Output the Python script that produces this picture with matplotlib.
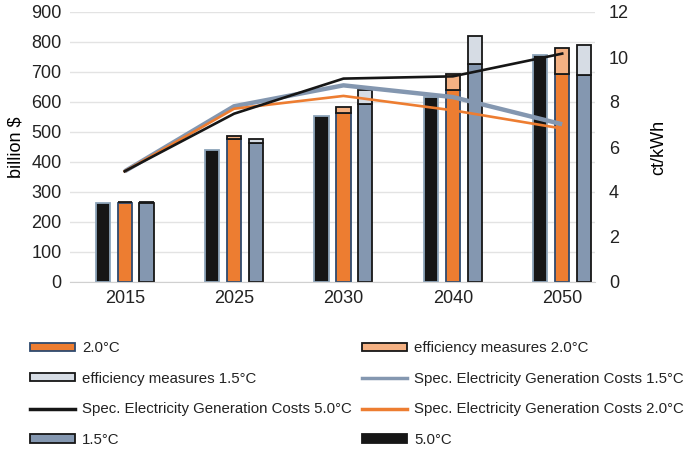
import numpy as np
import matplotlib
matplotlib.use("Agg")
import matplotlib.pyplot as plt
from matplotlib.patches import Patch
from matplotlib.lines import Line2D

plt.rcParams["font.family"] = ["Liberation Sans", "DejaVu Sans"]

years = ["2015", "2025", "2030", "2040", "2050"]

# investment, billion $
inv_50 = [265, 439, 553, 617, 758]
inv_20 = [265, 477, 563, 639, 692]
eff_20 = [0, 9, 20, 53, 88]
inv_15 = [265, 463, 592, 728, 689]
eff_15 = [0, 15, 47, 91, 100]

# specific electricity generation costs, ct/kWh
cost_50 = [4.92, 7.48, 9.04, 9.14, 10.15]
cost_20 = [4.92, 7.70, 8.27, 7.63, 6.82]
cost_15 = [4.92, 7.81, 8.74, 8.22, 7.01]

BLACK = "#161616"
ORANGE = "#ED7D31"
LORANGE = "#F4B183"
BLUE = "#8497B0"
LGREY = "#D6DCE4"

fig = plt.figure(figsize=(6.85, 4.49), dpi=100)
ax = fig.add_axes([70 / 685, 1 - 282 / 449, 525 / 685, 270 / 449])
ax2 = ax.twinx()

x = np.arange(len(years))
w = 0.13
step = 0.2

ax.bar(x - step, inv_50, w, color=BLACK, edgecolor="#8EA5BA", linewidth=1.3, zorder=2)
ax.bar(x, inv_20, w, color=ORANGE, edgecolor="#2E4A6E", linewidth=1.3, zorder=2)
ax.bar(x, eff_20, w, bottom=inv_20, color=LORANGE, edgecolor=BLACK, linewidth=1.3, zorder=2)
ax.bar(x + step, inv_15, w, color=BLUE, edgecolor=BLACK, linewidth=1.3, zorder=2)
ax.bar(x + step, eff_15, w, bottom=inv_15, color=LGREY, edgecolor=BLACK, linewidth=1.3, zorder=2)

ax2.plot(x, cost_15, color=BLUE, lw=3.2, solid_capstyle="butt")
ax2.plot(x, cost_20, color=ORANGE, lw=1.9)
ax2.plot(x, cost_50, color=BLACK, lw=1.9)

ax.set_xlim(-0.5, 4.3)
ax.set_ylim(0, 900)
ax.set_yticks(range(0, 901, 100))
ax2.set_ylim(0, 12)
ax2.set_yticks(range(0, 13, 2))
ax.set_xticks(x)
ax.set_xticklabels(years)

ax.grid(axis="y", color="#E3E3E3", lw=1, zorder=0)
ax.set_axisbelow(True)
for a in (ax, ax2):
    for s in a.spines.values():
        s.set_visible(False)
    a.tick_params(length=0, labelsize=13, colors="#222222")
ax.spines["bottom"].set_visible(True)
ax.spines["bottom"].set_color("#D0D0D0")
ax.tick_params(axis="y", pad=6)
ax.tick_params(axis="x", pad=6)
ax2.tick_params(axis="y", pad=10)

ax.set_ylabel("billion $", fontsize=13, labelpad=5)
ax2.set_ylabel("ct/kWh", fontsize=13, labelpad=15)

# legend, filled column by column
handles = [
    Patch(facecolor=ORANGE, edgecolor="#2E4A6E", lw=1.3, label="2.0°C"),
    Patch(facecolor=LGREY, edgecolor=BLACK, lw=1.3, label="efficiency measures 1.5°C"),
    Line2D([], [], color=BLACK, lw=2.5, label="Spec. Electricity Generation Costs 5.0°C"),
    Patch(facecolor=BLUE, edgecolor=BLACK, lw=1.3, label="1.5°C"),
    Patch(facecolor=LORANGE, edgecolor=BLACK, lw=1.3, label="efficiency measures 2.0°C"),
    Line2D([], [], color=BLUE, lw=2.5, label="Spec. Electricity Generation Costs 1.5°C"),
    Line2D([], [], color=ORANGE, lw=2.5, label="Spec. Electricity Generation Costs 2.0°C"),
    Patch(facecolor=BLACK, edgecolor=BLACK, lw=1.3, label="5.0°C"),
]
fig.legend(handles=handles, ncol=2, loc="upper left",
           bbox_to_anchor=(30 / 685, 1 - 341 / 449), frameon=False,
           borderpad=0, borderaxespad=0, prop={"family": "Liberation Sans", "size": 10.8},
           handlelength=3.0, handleheight=0.47, handletextpad=0.47,
           columnspacing=0.67, labelspacing=1.11, labelcolor="#222222")

fig.savefig("out.png", dpi=100)
